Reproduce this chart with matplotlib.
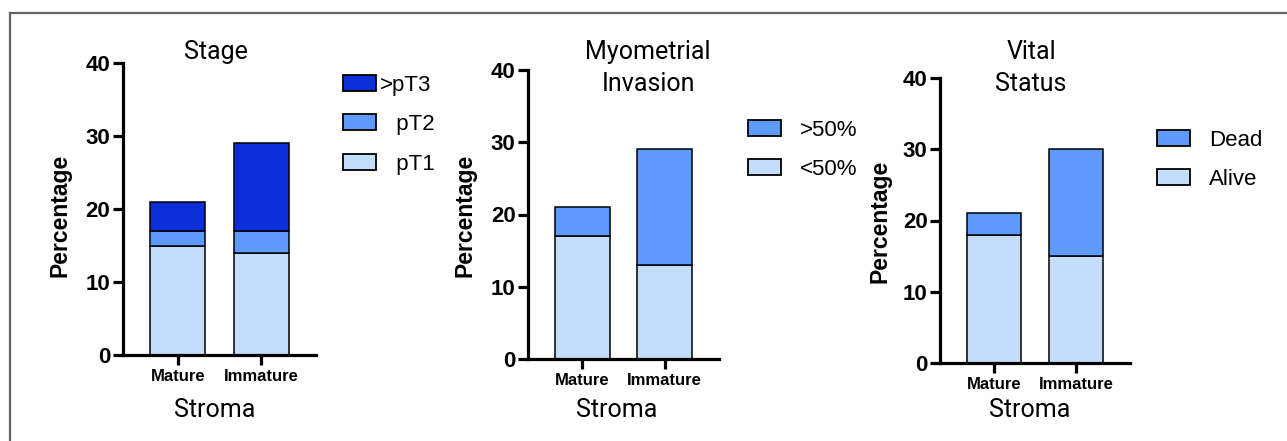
import matplotlib
matplotlib.use("Agg")
import matplotlib.pyplot as plt
from matplotlib.patches import Patch
from matplotlib.lines import Line2D

W, H = 1287, 441
categories = ["Mature", "Immature"]

stage_labels = [">pT3", "\u2002 pT2", "\u2002 pT1"]
stage_pT1 = [15, 14]
stage_pT2 = [2, 3]
stage_pT3 = [4, 12]

myo_labels = [">50%", "<50%"]
myo_lt50 = [17, 13]
myo_gt50 = [4, 16]

vital_labels = ["Dead", "Alive"]
vital_alive = [18, 15]
vital_dead = [3, 15]

yticks = [0, 10, 20, 30, 40]

C_DARK = "#0B2ED9"
C_MID = "#5F9BFF"
C_LIGHT = "#C4DDFB"

SANS = ["Liberation Sans", "DejaVu Sans"]
ROBO = ["Roboto", "DejaVu Sans"]

fig = plt.figure(figsize=(W / 100, H / 100), dpi=100)


def fx(px):
    return px / W


def fy(py):
    return 1 - py / H


def make_axes(x0, x1, y0, y40):
    ax = fig.add_axes([fx(x0), fy(y0), fx(x1 - x0), (y0 - y40) / H])
    for s in ["top", "right"]:
        ax.spines[s].set_visible(False)
    for s in ["left", "bottom"]:
        ax.spines[s].set_linewidth(2.3)
    ax.set_ylim(0, 40)
    ax.set_xlim(-0.66, 1.66)
    ax.set_yticks(yticks)
    ax.set_xticks(range(len(categories)))
    ax.set_xticklabels(categories, fontfamily=SANS, fontweight="bold", fontsize=12)
    ax.tick_params(axis="y", length=7, width=2.3, labelsize=16, pad=2)
    ax.tick_params(axis="x", length=7, width=2.3, pad=3)
    for t in ax.get_yticklabels():
        t.set_fontfamily(SANS)
        t.set_fontweight("bold")
    return ax


bw = 0.66
edge = dict(edgecolor="black", linewidth=1.1)
x = list(range(len(categories)))

# Panel 1: Stage
ax1 = make_axes(123, 316, 355, 63)
ax1.bar(x, stage_pT1, bw, color=C_LIGHT, **edge)
ax1.bar(x, stage_pT2, bw, bottom=stage_pT1, color=C_MID, **edge)
b13 = [a + b for a, b in zip(stage_pT1, stage_pT2)]
ax1.bar(x, stage_pT3, bw, bottom=b13, color=C_DARK, **edge)

# Panel 2: Myometrial invasion
ax2 = make_axes(528, 719, 359, 70)
ax2.bar(x, myo_lt50, bw, color=C_LIGHT, **edge)
ax2.bar(x, myo_gt50, bw, bottom=myo_lt50, color=C_MID, **edge)

# Panel 3: Vital status
ax3 = make_axes(940, 1130, 363, 78)
ax3.bar(x, vital_alive, bw, color=C_LIGHT, **edge)
ax3.bar(x, vital_dead, bw, bottom=vital_alive, color=C_MID, **edge)


def ftext(px, py, s, **kw):
    fig.text(fx(px), fy(py), s, ha="center", va="center", **kw)


TFS = 18
ftext(216, 52, "Stage", fontfamily=ROBO, fontsize=TFS)
ftext(648, 52, "Myometrial", fontfamily=ROBO, fontsize=TFS)
ftext(648, 84, "Invasion", fontfamily=ROBO, fontsize=TFS)
ftext(1031, 52, "Vital", fontfamily=ROBO, fontsize=TFS)
ftext(1031, 84, "Status", fontfamily=ROBO, fontsize=TFS)

for cx in [215, 617, 1030]:
    ftext(cx, 410, "Stroma", fontfamily=ROBO, fontsize=18)

for cx, cy in [(60, 215), (465, 215), (880, 221)]:
    ftext(cx, cy, "Percentage", fontfamily=SANS, fontweight="bold", fontsize=16.5, rotation=90)


def legend(ax, labels, colors, px, py, textpad):
    handles = [Patch(facecolor=c, edgecolor="black", linewidth=1.3) for c in colors]
    leg = ax.legend(handles, labels, loc="upper left",
                    bbox_to_anchor=(fx(px), fy(py)), bbox_transform=fig.transFigure,
                    frameon=False, borderpad=0, borderaxespad=0,
                    handlelength=1.5, handleheight=0.72, handletextpad=textpad,
                    labelspacing=0.84, prop={"family": SANS, "size": 16})
    return leg


legend(ax1, stage_labels, [C_DARK, C_MID, C_LIGHT], 343, 74.5, 0.14)
legend(ax2, myo_labels, [C_MID, C_LIGHT], 748, 119.5, 0.85)
legend(ax3, vital_labels, [C_MID, C_LIGHT], 1157, 129.5, 0.85)

# Partial frame (top and left)
fig.add_artist(Line2D([fx(10), 1], [fy(13), fy(13)], color="#666666", linewidth=1.6))
fig.add_artist(Line2D([fx(10), fx(10)], [fy(13), 0], color="#666666", linewidth=1.6))

fig.savefig("out.png", dpi=100)
